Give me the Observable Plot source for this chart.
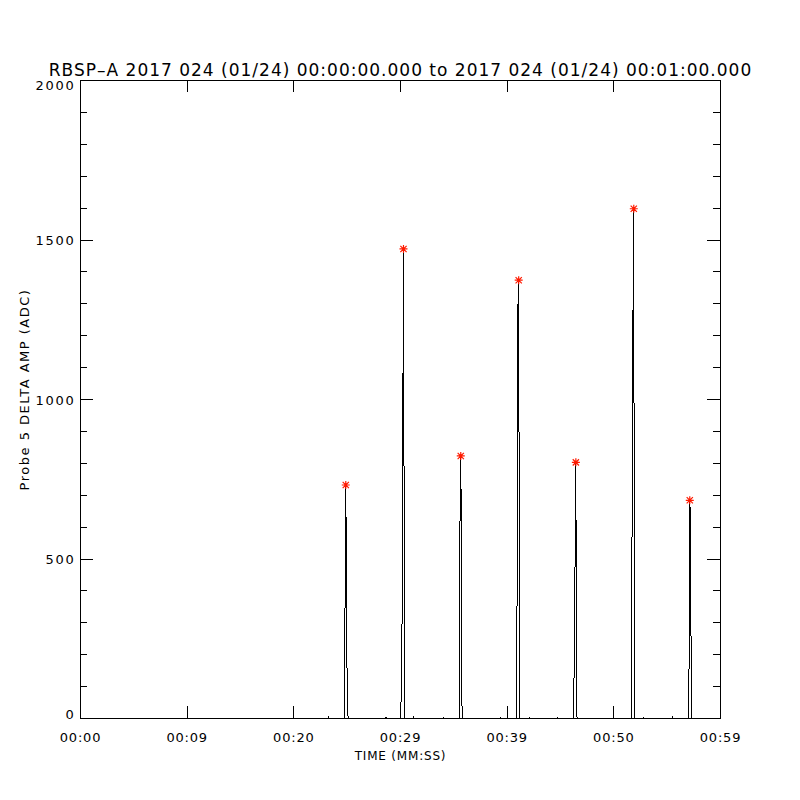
<!DOCTYPE html>
<html>
<head>
<meta charset="utf-8">
<script src="https://cdn.jsdelivr.net/npm/d3@7"></script>
<script src="https://cdn.jsdelivr.net/npm/@observablehq/plot@0.6"></script>
<style>
  html, body { margin: 0; padding: 0; background: white; }
</style>
</head>
<body>
<div id="chart"></div>
<script>
// ---- data ----
const titleText = "RBSP\u2013A 2017 024 (01/24) 00:00:00.000 to 2017 024 (01/24) 00:01:00.000";
const xTitle = "TIME (MM:SS)";
const yTitle = "Probe 5 DELTA AMP (ADC)";

// time in seconds since 00:00:00, amplitude in ADC
const sampleTime = [
  0, 23.22, 23.25, 23.28,
  24.75, 24.78, 24.87, 24.94, 25.01, 25.10,
  28.61, 28.64, 28.67,
  30.00, 30.03, 30.12, 30.21, 30.28, 30.35, 30.42,
  31.19, 31.22, 31.25,
  34.00, 34.03, 34.06,
  35.51, 35.56, 35.65, 35.72, 35.77,
  39.35, 39.38, 39.41,
  40.87, 40.90, 40.99, 41.08, 41.12, 41.19,
  42.06, 42.09, 42.12,
  44.69, 44.72, 44.75,
  46.22, 46.25, 46.36, 46.44, 46.49, 46.55,
  51.66, 51.69, 51.78, 51.87, 51.92, 51.98,
  52.75, 52.78, 52.81,
  55.47, 55.50, 55.53,
  57.00, 57.03, 57.12, 57.19, 57.23, 57.31,
  60
];
const sampleAmp = [
  0, 0, 5, 0,
  0, 243, 732, 400, 30, 0,
  0, 4, 0,
  0, 36, 108, 846, 1472, 515, 0,
  0, 5, 0,
  0, 3, 0,
  0, 560, 823, 504, 0,
  0, 3, 0,
  0, 30, 1268, 1374, 742, 0,
  0, 2, 0,
  0, 2, 0,
  0, 65, 469, 803, 178, 0,
  0, 441, 1200, 1598, 190, 0,
  0, 3, 0,
  0, 5, 0,
  0, 15, 684, 619, 282, 0,
  0
];

const peakTime = [24.87, 30.28, 35.65, 41.08, 46.44, 51.87, 57.12];
const peakAmp  = [732, 1472, 823, 1374, 803, 1598, 684];

const xTickPos = [0, 10, 20, 30, 40, 50, 60];
const xTickLabels = ["00:00", "00:09", "00:20", "00:29", "00:39", "00:50", "00:59"];
const yMajor = [0, 500, 1000, 1500, 2000];
const yMinor = [100, 200, 300, 400, 600, 700, 800, 900, 1100, 1200, 1300, 1400, 1600, 1700, 1800, 1900];

// ---- build ----
const samples = sampleTime.map((t, i) => ({t, v: sampleAmp[i]}));
const peaks = peakTime.map((t, i) => ({t, v: peakAmp[i]}));
const yMin = d3.min(yMajor), yMax = d3.max(yMajor);

const asterisk = {
  draw(context, size) {
    const r = Math.sqrt(size / Math.PI);
    const d = r * 0.78;
    context.moveTo(-r, 0); context.lineTo(r, 0);
    context.moveTo(0, -r); context.lineTo(0, r);
    context.moveTo(-d, -d); context.lineTo(d, d);
    context.moveTo(-d, d); context.lineTo(d, -d);
  }
};

const W = 800, H = 800, mL = 80, mR = 80, mT = 80, mB = 82;
const fw = W - mL - mR, fh = H - mT - mB;
const font = "DejaVu Sans";
const crisp = "crispEdges";
const ylabOpts = {y: d => d, text: d => String(d), frameAnchor: "left", textAnchor: "end", dx: -5, fontSize: 13, fill: "black"};

const chart = Plot.plot({
  width: W, height: H,
  marginLeft: mL, marginRight: mR, marginTop: mT, marginBottom: mB,
  style: {fontFamily: font, fontSize: "13px", background: "white", color: "black"},
  x: {domain: [0, 60], axis: null},
  y: {domain: [yMin, yMax], axis: null},
  marks: [
    Plot.line(samples, {x: "t", y: "v", stroke: "black", strokeWidth: 1, shapeRendering: crisp}),
    Plot.frame({stroke: "black", strokeWidth: 1, shapeRendering: crisp}),
    // y ticks left & right
    Plot.ruleY(yMajor, {y: d => d, insetRight: fw - 13, stroke: "black", shapeRendering: crisp}),
    Plot.ruleY(yMinor, {y: d => d, insetRight: fw - 7, stroke: "black", shapeRendering: crisp}),
    Plot.ruleY(yMajor, {y: d => d, insetLeft: fw - 13, stroke: "black", shapeRendering: crisp}),
    Plot.ruleY(yMinor, {y: d => d, insetLeft: fw - 7, stroke: "black", shapeRendering: crisp}),
    // x ticks bottom & top
    Plot.ruleX(xTickPos, {x: d => d, insetTop: fh - 12, stroke: "black", shapeRendering: crisp}),
    Plot.ruleX(xTickPos, {x: d => d, insetBottom: fh - 12, stroke: "black", shapeRendering: crisp}),
    // peak markers
    Plot.dot(peaks, {x: "t", y: "v", symbol: asterisk, r: 4, stroke: "#ff1a00", strokeWidth: 1.2, fill: "none"}),
    // y tick labels (0: nudged up, top: nudged down, as in the original)
    Plot.text(yMajor.filter(d => d === yMin), {...ylabOpts, dy: -4}),
    Plot.text(yMajor.filter(d => d !== yMin && d !== yMax), {...ylabOpts, dy: 1}),
    Plot.text(yMajor.filter(d => d === yMax), {...ylabOpts, dy: 5}),
    // x tick labels
    Plot.text(xTickPos, {x: d => d, text: (d, i) => xTickLabels[i], frameAnchor: "bottom", dy: 23,
      fontSize: 13, fill: "black"}),
    // axis titles
    Plot.text([xTitle], {text: d => d, frameAnchor: "bottom", dy: 41, fontSize: 12, fill: "black"}),
    Plot.text([yTitle], {text: d => d, frameAnchor: "left", textAnchor: "middle", dx: -56, dy: -10, rotate: -90,
      fontSize: 13, fill: "black"}),
    // title
    Plot.text([titleText], {text: d => d, frameAnchor: "top", dy: -17, fontSize: 17, fill: "black"})
  ]
});
// letter spacing per text group, in mark order
const spacing = ["1.7px", "1.7px", "1.7px", "0.8px", "0.8px", "1.5px", "1px"];
const groups = chart.querySelectorAll('g[aria-label="text"]');
groups.forEach((g, i) => {
  g.querySelectorAll("text").forEach(t => t.style.letterSpacing = spacing[i] || "0px");
});
document.getElementById("chart").appendChild(chart);
</script>
</body>
</html>
